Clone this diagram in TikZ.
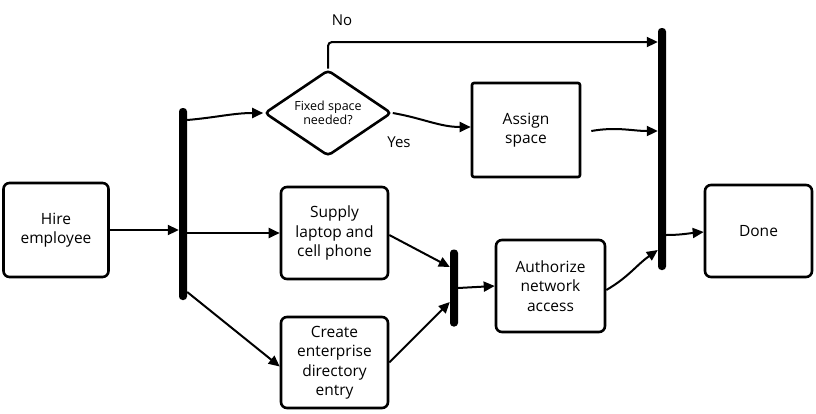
\documentclass[tikz,border=0pt]{standalone}
\usepackage{fontspec}
\setmainfont{Open Sans}
\usetikzlibrary{arrows.meta,shapes.geometric}
\begin{document}
\begin{tikzpicture}[x=1pt,y=-1pt,
  box/.style={draw,line width=2.6pt,rounded corners=6pt,align=center,inner sep=2pt,
    font=\fontsize{15.5}{19.5}\selectfont},
  bar/.style={fill=black,rounded corners=3.5pt,minimum width=8pt,inner sep=0pt},
  arr/.style={line width=2pt,-{Triangle[length=11pt,width=10pt]}},
  lbl/.style={font=\fontsize{15}{18}\selectfont,inner sep=1pt}]
\useasboundingbox (0,0) rectangle (816,413);
\node[box,minimum width=105pt,minimum height=94pt] (hire) at (56,230) {Hire\\employee};
\node[box,rounded corners=2pt,minimum width=108pt,minimum height=94pt] (assign) at (526,130) {Assign\\space};
\node[box,minimum width=107pt,minimum height=92pt] (supply) at (334.5,233) {Supply\\laptop and\\cell phone};
\node[box,minimum width=107pt,minimum height=91pt] (create) at (334.5,362.5) {Create\\enterprise\\directory\\entry};
\node[box,minimum width=109pt,minimum height=92pt] (auth) at (550.5,286) {Authorize\\network\\access};
\node[box,minimum width=107pt,minimum height=92pt] (done) at (758.5,231) {Done};
\node[diamond,draw,line width=2.6pt,rounded corners=4pt,minimum width=127pt,minimum height=86pt,
  inner sep=0pt,aspect=1.48,align=center,font=\fontsize{12.5}{14.5}\selectfont] (fixed) at (328,113) {Fixed space\\needed?};
\node[bar,minimum height=192pt] (bar1) at (183,204) {};
\node[bar,minimum height=77pt] (bar2) at (454,288) {};
\node[bar,minimum height=242pt] (bar3) at (662,149) {};
\node[lbl] (no) at (342,20) {No};
\node[lbl] (yes) at (399,142) {Yes};
% connectors
\draw[arr] (hire.east) -- (bar1.west |- hire.east);
\draw[arr] ([yshift=84pt]bar1.east) to[out=5,in=180] (fixed.west);
\draw[arr] (bar1.east |- supply.west) -- (supply.west);
\draw[arr] ([yshift=-88pt]bar1.east) -- ([yshift=-4pt]create.west);
\draw[arr] ([yshift=-2pt]supply.east) -- ([yshift=21pt]bar2.west);
\draw[arr] (create.east) -- ([yshift=-14pt]bar2.west);
\draw[arr] (bar2.east) -- (auth.west);
\draw[arr] ([yshift=-4pt]auth.east) to[out=30,in=215] ([yshift=-101pt]bar3.west);
\draw[arr] ([yshift=-86pt]bar3.east) to[out=0,in=185] ([yshift=-1pt]done.west);
\draw[arr] (fixed.east) to[out=-10,in=180] ([yshift=3pt]assign.west);
\draw[arr,rounded corners=4pt] (fixed.north) |- ([yshift=107pt]bar3.west);
\draw[arr] ([xshift=10pt,yshift=-1pt]assign.east) to[out=10,in=180] ([yshift=18pt]bar3.west);
\end{tikzpicture}
\end{document}
